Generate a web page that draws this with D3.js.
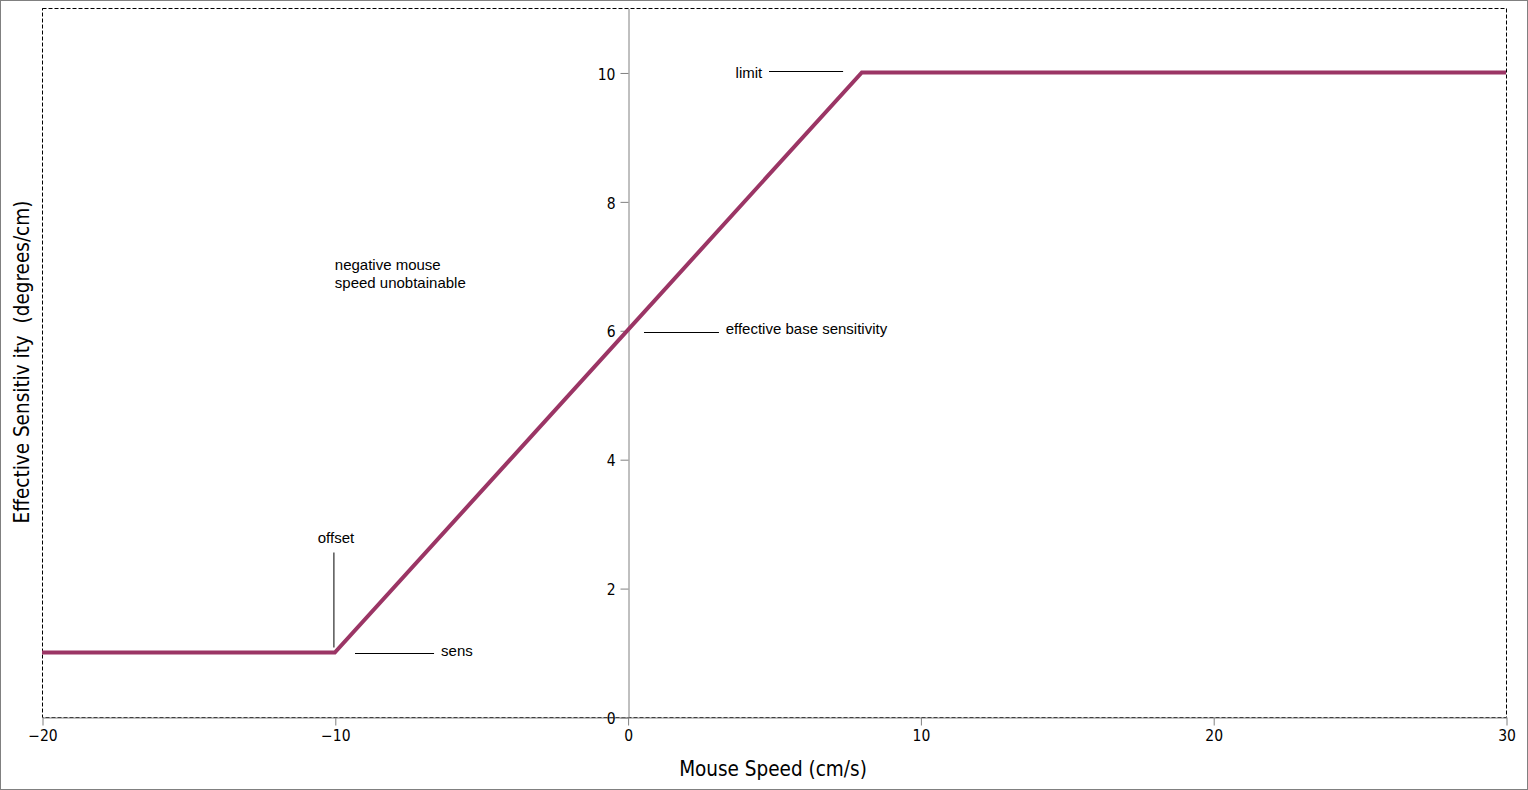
<!DOCTYPE html>
<html>
<head>
<meta charset="utf-8">
<script src="https://cdn.jsdelivr.net/npm/d3@7"></script>
<style>
  body { margin: 0; background: #fff; }
  svg { display: block; }
  .tick text { font-family: "DejaVu Sans Condensed", "DejaVu Sans", sans-serif; font-size: 15.5px; fill: #000; }
  .title { font-family: "DejaVu Sans Condensed", "DejaVu Sans", sans-serif; font-size: 20.5px; fill: #000; white-space: pre; }
  .note { font-family: "Liberation Sans", Arial, sans-serif; font-size: 15px; fill: #000; }
</style>
</head>
<body>
<script>
// curve points (mouse speed, sensitivity)
var speeds = [-20, -10, 8, 30];
var sens = [1, 1, 10, 10];

var xTicks = [-20, -10, 0, 10, 20, 30];
var yTicks = [0, 2, 4, 6, 8, 10];

// annotations in data units
var noteLabels = ['limit', 'effective base sensitivity', 'sens', 'offset'];
var noteTextX = [4.6, 3.35, -6.37, -9.96];
var noteTextY = [9.99, 6.02, 1.03, 2.78];
var noteAnchor = ['end', 'start', 'start', 'middle'];
var leaderX1 = [4.83, 0.56, -9.31, -10.03];
var leaderX2 = [7.36, 3.12, -6.61, -10.03];
var leaderY1 = [10.02, 5.98, 0.99, 2.56];
var leaderY2 = [10.02, 5.98, 0.99, 1.08];

var regionNote = ['negative mouse', 'speed unobtainable'];

var W = 1528, H = 790;
var svg = d3.select('body').append('svg').attr('width', W).attr('height', H);

// outer frame
svg.append('rect').attr('x', 0.5).attr('y', 0.5)
  .attr('width', W - 1).attr('height', H - 1)
  .attr('fill', 'none').style('stroke', '#808080');

var xScale = d3.scaleLinear().domain([-20, 30]).range([42, 1506]);
var yScale = d3.scaleLinear().domain([0, 11]).range([717, 8]);

// dashed plot box
svg.append('rect')
  .attr('x', xScale(-20) + 0.5).attr('y', yScale(11) + 0.5)
  .attr('width', xScale(30) - xScale(-20)).attr('height', yScale(0) - yScale(11))
  .attr('fill', 'none').style('stroke', '#000').style('stroke-dasharray', '4,2');

// x axis
var xAxis = d3.axisBottom(xScale).tickValues(xTicks).tickSize(8).tickSizeOuter(0).tickPadding(4)
  .tickFormat(function(d){ return d < 0 ? '\u2212' + Math.abs(d) : d; });
var xg = svg.append('g').attr('transform', 'translate(0.5,' + (yScale(0) + 0.5) + ')').call(xAxis);
xg.select('.domain').style('stroke', '#808080');
xg.selectAll('.tick line').style('stroke', '#808080');

// y axis through x = 0
var yAxis = d3.axisLeft(yScale).tickValues(yTicks).tickSize(8).tickSizeOuter(0).tickPadding(5);
var yg = svg.append('g').attr('transform', 'translate(' + (Math.round(xScale(0)) + 0.5) + ',0.5)').call(yAxis);
yg.select('.domain').style('stroke', '#808080');
yg.selectAll('.tick line').style('stroke', '#808080');
yg.selectAll('.tick text').attr('dy', '0.4em');

// axis titles
svg.append('text').attr('class', 'title')
  .attr('x', 773).attr('y', 776).attr('text-anchor', 'middle')
  .text('Mouse Speed (cm/s)');
svg.append('text').attr('class', 'title')
  .attr('transform', 'translate(29,362) rotate(-90)')
  .attr('text-anchor', 'middle')
  .text('Effective Sensitiv ity  (degrees/cm)');

// curve
var line = d3.line().x(function(d){ return xScale(d[0]); }).y(function(d){ return yScale(d[1]); });
svg.append('path').datum(d3.zip(speeds, sens))
  .attr('d', line)
  .attr('fill', 'none')
  .style('stroke', '#9b3565').style('stroke-width', '4px')
  .style('stroke-linejoin', 'miter');

// leader lines and labels
noteLabels.forEach(function(lbl, i){
  svg.append('line')
    .attr('x1', xScale(leaderX1[i])).attr('x2', xScale(leaderX2[i]))
    .attr('y1', Math.round(yScale(leaderY1[i])) + 0.5).attr('y2', Math.round(yScale(leaderY2[i])) + 0.5)
    .style('stroke', '#000').style('stroke-width', 1);
  svg.append('text').attr('class', 'note')
    .attr('x', xScale(noteTextX[i])).attr('y', yScale(noteTextY[i]))
    .attr('dy', '0.35em')
    .attr('text-anchor', noteAnchor[i])
    .text(lbl);
});

svg.selectAll('text.region').data(regionNote).enter()
  .append('text').attr('class', 'note region')
  .attr('x', xScale(-10))
  .attr('y', function(d, i){ return yScale(7.01) + i * 18; })
  .attr('dy', '0.35em')
  .text(function(d){ return d; });
</script>
</body>
</html>
